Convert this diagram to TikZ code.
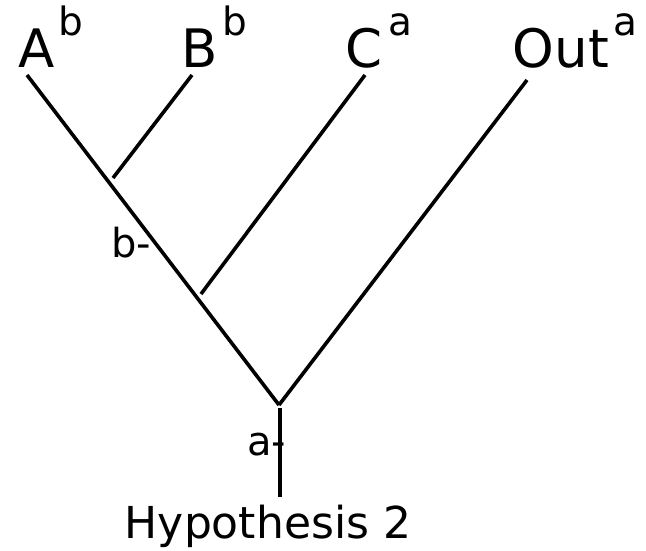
\documentclass[tikz,border=0pt]{standalone}
\usepackage{fontspec}
\setmainfont{DejaVu Sans}
\usepackage{tikz}

\begin{document}
\begin{tikzpicture}[x=1pt, y=-1pt, line width=3.6pt,
    tip/.style={anchor=base, inner sep=0pt, font=\fontsize{53}{53}\selectfont},
    state/.style={anchor=base west, inner sep=0pt, font=\fontsize{39}{39}\selectfont},
    change/.style={anchor=base east, inner sep=0pt, font=\fontsize{40}{40}\selectfont}]
  \useasboundingbox (0,0) rectangle (646,550);
  % taxon labels with character states
  \node[tip] (tipA) at (37,67) {A};
  \node[state] (stA) at (57,35) {b};
  \node[tip] (tipB) at (200,67) {B};
  \node[state] (stB) at (221,35) {b};
  \node[tip] (tipC) at (364,67) {C};
  \node[state] (stC) at (387,35) {a};
  \node[tip] (tipOut) at (561,67) {Out};
  \node[state] (stOut) at (612,35) {a};
  % branch ends and junctions
  \coordinate (endA) at (27,75);
  \coordinate (endB) at (192,75);
  \coordinate (endC) at (365,75);
  \coordinate (endOut) at (527,80);
  \coordinate (jAB) at (113,178);
  \coordinate (jC) at (201,294);
  \coordinate (root) at (279,405);
  \coordinate (stemTop) at (280,408);
  \coordinate (stemEnd) at (280,497);
  % branches
  \draw (endA) -- (root);
  \draw (endB) -- (jAB);
  \draw (endC) -- (jC);
  \draw (endOut) -- (root);
  \draw (stemTop) -- (stemEnd);
  % state changes
  \node[change] (chB) at (153,257) {b-};
  \node[change] (chA) at (288,455) {a-};
  % hypothesis label
  \node[anchor=base, inner sep=0pt, font=\fontsize{44}{44}\selectfont] (hyp) at (268,538) {Hypothesis 2};
\end{tikzpicture}
\end{document}
